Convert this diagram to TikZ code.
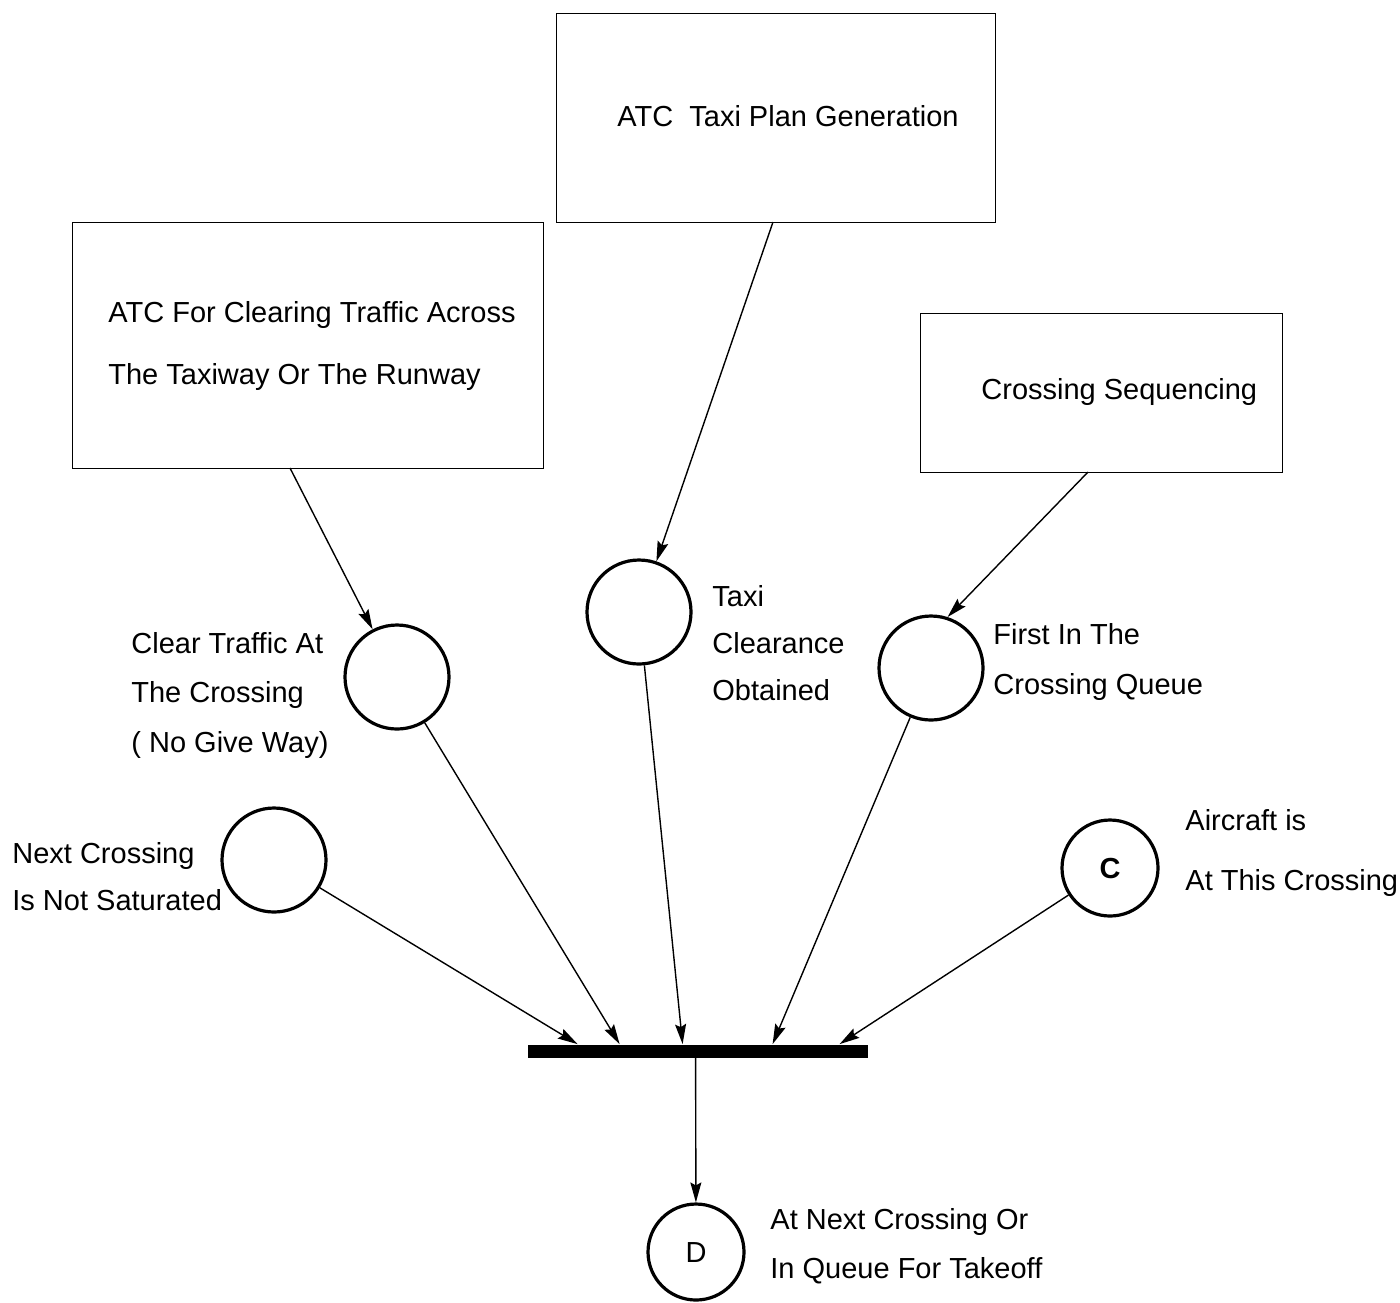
\documentclass[tikz,border=0pt]{standalone}
\usepackage{fontspec}
\setmainfont{Liberation Sans}
\usetikzlibrary{arrows.meta,calc}
\begin{document}
\begin{tikzpicture}[x=0.5pt,y=-0.5pt,
  every node/.style={font=\fontsize{14.5pt}{17pt}\selectfont},
  box/.style={draw,line width=0.7pt,inner sep=0pt,anchor=north west},
  place/.style={draw,circle,line width=1.6pt,minimum size=52pt,inner sep=0pt},
  lbl/.style={anchor=base west,inner sep=0pt},
  arc/.style={line width=0.7pt,-{Stealth[length=10pt,width=5.5pt,inset=1.5pt]}},
  bar/.style={fill=black,inner sep=0pt,minimum width=170pt,minimum height=6.5pt}]
\useasboundingbox (0,0) rectangle (1400,1302);

% boxes for the control functions
\node[box,minimum width=219.5pt,minimum height=104.5pt] (plan) at (556,13) {};
\node[lbl] (plant) at (617,126) {ATC\ \ Taxi Plan Generation};
\node[box,minimum width=235.5pt,minimum height=123pt] (clear) at (72,222) {};
\node[lbl] (cleart1) at (108,322) {ATC For Clearing Traffic Across};
\node[lbl] (cleart2) at (108,384) {The Taxiway Or The Runway};
\node[box,minimum width=181pt,minimum height=79.5pt] (seq) at (920,313) {};
\node[lbl] (seqt) at (981,399) {Crossing Sequencing};

% places
\node[place] (pclr) at (397,677) {};
\node[place] (ptaxi) at (639,612) {};
\node[place] (pfirst) at (931,668) {};
\node[place] (pnext) at (274,860) {};
\node[place,minimum size=48pt] (pc) at (1110,868) {\bfseries C};
\node[place,minimum size=48pt] (pd) at (696,1252) {D};

% labels of the places
\node[lbl] (l1) at (131,653) {Clear Traffic At};
\node[lbl] (l2) at (131,702) {The Crossing};
\node[lbl] (l3) at (131,752) {( No Give Way)};
\node[lbl] (l4) at (712,606) {Taxi};
\node[lbl] (l5) at (712,653) {Clearance};
\node[lbl] (l6) at (712,700) {Obtained};
\node[lbl] (l7) at (993,644) {First In The};
\node[lbl] (l8) at (993,694) {Crossing Queue};
\node[lbl] (l9) at (12,863) {Next Crossing};
\node[lbl] (l10) at (12,910) {Is Not Saturated};
\node[lbl] (l11) at (1185,830) {Aircraft is};
\node[lbl] (l12) at (1185,890) {At This Crossing};
\node[lbl] (l13) at (770,1229) {At Next Crossing Or};
\node[lbl] (l14) at (770,1278) {In Queue For Takeoff};

% transition
\node[bar] (tr) at (698,1051) {};

% attachment points on the boxes and the bar
\coordinate (sclear) at (290,468);
\coordinate (splan) at (773,222);
\coordinate (sseq) at (1088,472);
\coordinate (in1) at ($(tr.north west)+(50,0)$);
\coordinate (in2) at ($(tr.north west)+(92,0)$);
\coordinate (in3) at ($(tr.north west)+(155,0)$);
\coordinate (in4) at ($(tr.north west)+(245,0)$);
\coordinate (in5) at ($(tr.north west)+(312,0)$);
\coordinate (out) at ($(tr.south west)+(168,0)$);

\draw[arc] (sclear) -- (pclr);
\draw[arc] (splan) -- (ptaxi);
\draw[arc] (sseq) -- (pfirst.72);
\draw[arc] (pnext) -- (in1);
\draw[arc] (pclr) -- (in2);
\draw[arc] (ptaxi) -- (in3);
\draw[arc] (pfirst) -- (in4);
\draw[arc] (pc) -- (in5);
\draw[arc] (out) -- (pd);
\end{tikzpicture}
\end{document}
